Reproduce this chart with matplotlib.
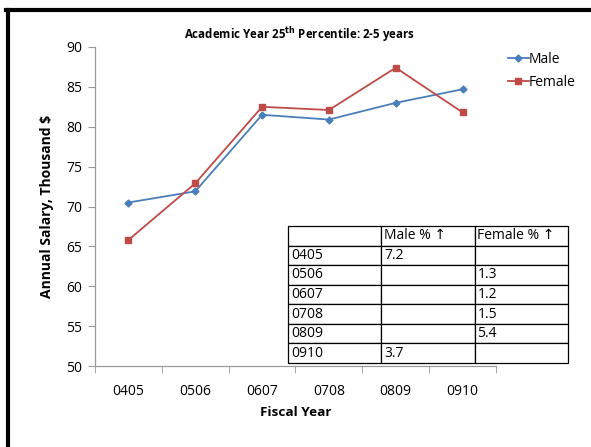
import matplotlib
matplotlib.use("Agg")
import matplotlib.pyplot as plt
from matplotlib.lines import Line2D

years = ["0405", "0506", "0607", "0708", "0809", "0910"]
male = [70.5, 71.9, 81.5, 80.9, 83.0, 84.7]
female = [65.8, 72.9, 82.5, 82.1, 87.4, 81.8]
yticks = [50, 55, 60, 65, 70, 75, 80, 85, 90]
table_header = ["", "Male % \u2191", "Female % \u2191"]
table_rows = [
    ["0405", "7.2", ""],
    ["0506", "", "1.3"],
    ["0607", "", "1.2"],
    ["0708", "", "1.5"],
    ["0809", "", "5.4"],
    ["0910", "3.7", ""],
]

plt.rcParams['font.family'] = ['Open Sans', 'DejaVu Sans']

W, H = 591, 447
fig = plt.figure(figsize=(W / 100, H / 100), dpi=100)
ax = fig.add_axes([95 / W, (H - 366) / H, 401 / W, 319 / H])

x = list(range(len(years)))
ax.plot(x, male, color="#4A7EBB", marker="D", markersize=3.5, linewidth=1.3, label="Male")
ax.plot(x, female, color="#BE4B48", marker="s", markersize=5, linewidth=1.3, label="Female")

ax.set_xlim(-0.5, len(years) - 0.5)
ax.set_ylim(50, 90)
ax.set_yticks(yticks)
ax.set_xticks(x)
ax.set_xticklabels(years)
ax.set_xticks([i - 0.5 for i in range(len(years) + 1)], minor=True)
ax.tick_params(axis="x", which="major", length=0, pad=13, labelsize=10)
ax.tick_params(axis="x", which="minor", length=5, color="#999999", direction="out")
ax.tick_params(axis="y", length=5, color="#999999", labelsize=10, pad=4)
for s in ["top", "right"]:
    ax.spines[s].set_visible(False)
for s in ["left", "bottom"]:
    ax.spines[s].set_color("#999999")
    ax.spines[s].set_linewidth(0.9)

ax.set_xlabel("Fiscal Year", fontsize=9.7, fontweight="bold", labelpad=5)
ax.set_ylabel("Annual Salary, Thousand $", fontsize=10, fontweight="bold", labelpad=9)
fig.text(300 / W, 1 - 35 / H, "Academic Year 25$^{\\mathbf{th}}$ Percentile: 2-5 years",
         ha="center", va="center", fontsize=8.3, fontweight="bold")

leg = ax.legend(loc="upper left", bbox_to_anchor=(501 / W, 1 - 45 / H), bbox_transform=fig.transFigure,
                frameon=False, fontsize=10, handlelength=1.5, handletextpad=0.0, labelspacing=0.55,
                borderpad=0)

tbl = ax.table(cellText=table_rows, colLabels=table_header, cellLoc="left", colLoc="left",
               bbox=[(288 - 95) / 401, (366 - 363) / 319, (568 - 288) / 401, (363 - 226) / 319])
tbl.auto_set_font_size(False)
tbl.set_fontsize(10)
for (r, c), cell in tbl.get_celld().items():
    cell.set_edgecolor("black")
    cell.set_linewidth(0.9)
    cell.set_facecolor("white")
    cell.PAD = 0.03
    cell.get_text().set_family(['Open Sans', 'DejaVu Sans'])
tbl.set_zorder(5)
tbl.set_clip_on(False)

fig.add_artist(Line2D([7.5 / W, 7.5 / W], [0, 1 - 9.5 / H], transform=fig.transFigure, color="black", linewidth=3))
fig.add_artist(Line2D([6 / W, 1], [1 - 9.5 / H, 1 - 9.5 / H], transform=fig.transFigure, color="black", linewidth=3))

fig.savefig("out.png", dpi=100)
